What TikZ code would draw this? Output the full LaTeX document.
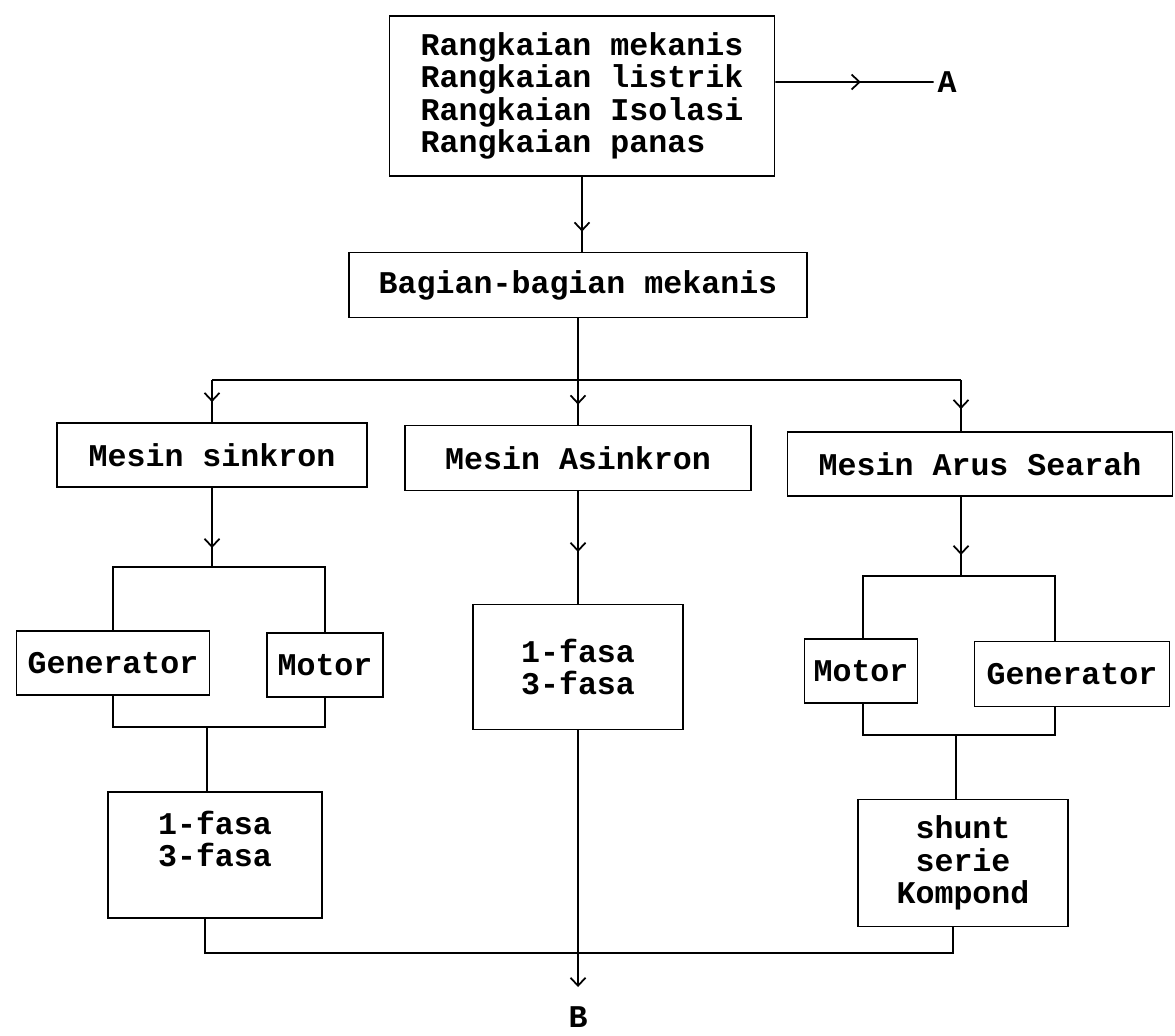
\documentclass[tikz,border=0pt]{standalone}
\usepackage{fontspec}
\usepackage{tikz}
\usetikzlibrary{arrows.meta,decorations.markings}
\newfontfamily\dotfont{Liberation Mono}
\tikzset{
  blkbox/.style={draw,line width=1pt,font=\dotfont\bfseries\fontsize{18}{18.5}\selectfont,align=center,inner sep=0pt},
  blklbl/.style={font=\dotfont\bfseries\fontsize{18}{18.5}\selectfont,inner sep=2pt},
  blkline/.style={line width=1pt},
  blkarr/.style={blkline,postaction={decorate},decoration={markings,mark=at position #1 with {\arrow{Straight Barb[length=1.6mm,width=3mm]}}}},
  blkend/.style={blkline,-{Straight Barb[length=1.6mm,width=3mm]}}
}
\begin{document}
\begin{tikzpicture}[x=0.02cm,y=-0.02cm]
\useasboundingbox (0,0) rectangle (1175,1035);
% top of the tree
\node[blkbox,align=left,minimum width=7.7cm,minimum height=3.2cm] (top) at (582,96) {Rangkaian mekanis\\Rangkaian listrik\\Rangkaian Isolasi\\Rangkaian panas};
\node[blklbl] (a) at (947,82) {A};
\node[blkbox,minimum width=9.16cm,minimum height=1.3cm] (bag) at (578,285) {Bagian-bagian mekanis};
% three kinds of machine
\node[blkbox,minimum width=6.2cm,minimum height=1.28cm] (sin) at (212,455) {Mesin sinkron};
\node[blkbox,minimum width=6.92cm,minimum height=1.3cm] (asin) at (578,458) {Mesin Asinkron};
\node[blkbox,minimum width=7.7cm,minimum height=1.28cm] (aru) at (980,464) {Mesin Arus Searah};
% sinkron branch
\node[blkbox,minimum width=3.86cm,minimum height=1.28cm] (genl) at (113,663) {Generator};
\node[blkbox,minimum width=2.32cm,minimum height=1.28cm] (motl) at (325,665) {Motor};
\node[blkbox,minimum width=4.28cm,minimum height=2.52cm] (fasal) at (215,855) {1-fasa\\3-fasa\\\mbox{}};
% asinkron branch
\node[blkbox,minimum width=4.2cm,minimum height=2.5cm] (fasam) at (578,667) {1-fasa\\3-fasa};
\node[blklbl] (b) at (578,1017) {B};
% arus searah branch
\node[blkbox,minimum width=2.26cm,minimum height=1.28cm] (motr) at (861,671) {Motor};
\node[blkbox,minimum width=3.9cm,minimum height=1.3cm] (genr) at (1072,674) {Generator};
\node[blkbox,minimum width=4.2cm,minimum height=2.54cm] (shunt) at (963,863) {shunt\\serie\\Kompond};
% junction points
\coordinate (b1) at (212,380);
\coordinate (b3) at (961,380);
\coordinate (s1) at (212,567);
\coordinate (s2) at (207,727);
\coordinate (s3) at (205,953);
\coordinate (r1l) at (863,576);
\coordinate (r1) at (961,576);
\coordinate (r1r) at (1055,576);
\coordinate (r2) at (956,735);
\coordinate (r3) at (953,953);
\coordinate (bend) at (578,987);
% connectors
\draw[blkarr=0.54] ([yshift=0.28cm]top.east) -- (a.west);
\draw[blkarr=-0.4cm] (top.south) -- (top.south |- bag.north);
\draw[blkline] (bag.south) -- (bag.south |- b1);
\draw[blkline] (b1) -- (b3);
\draw[blkarr=-0.4cm] (b1) -- (sin.north);
\draw[blkarr=-0.4cm] (asin.north |- b1) -- (asin.north);
\draw[blkarr=-0.44cm] (b3) -- (b3 |- aru.north);
\draw[blkarr=-0.38cm] (sin.south) -- (s1);
\draw[blkline] (genl.north) |- (s1) -| (motl.north);
\draw[blkline] (genl.south) |- (s2) -| (motl.south);
\draw[blkline] (s2) -- (s2 |- fasal.north);
\draw[blkarr=0.54] (asin.south) -- (fasam.north);
\draw[blkend] (fasam.south) -- (bend);
\draw[blkarr=-0.42cm] (r1 |- aru.south) -- (r1);
\draw[blkline] (r1l |- motr.north) -- (r1l) -- (r1r) -- (r1r |- genr.north);
\draw[blkline] (r1l |- motr.south) |- (r2) -| (r1r |- genr.south);
\draw[blkline] (r2) -- (r2 |- shunt.north);
\draw[blkline] (s3 |- fasal.south) -- (s3) -- (r3) -- (r3 |- shunt.south);
\end{tikzpicture}
\end{document}
